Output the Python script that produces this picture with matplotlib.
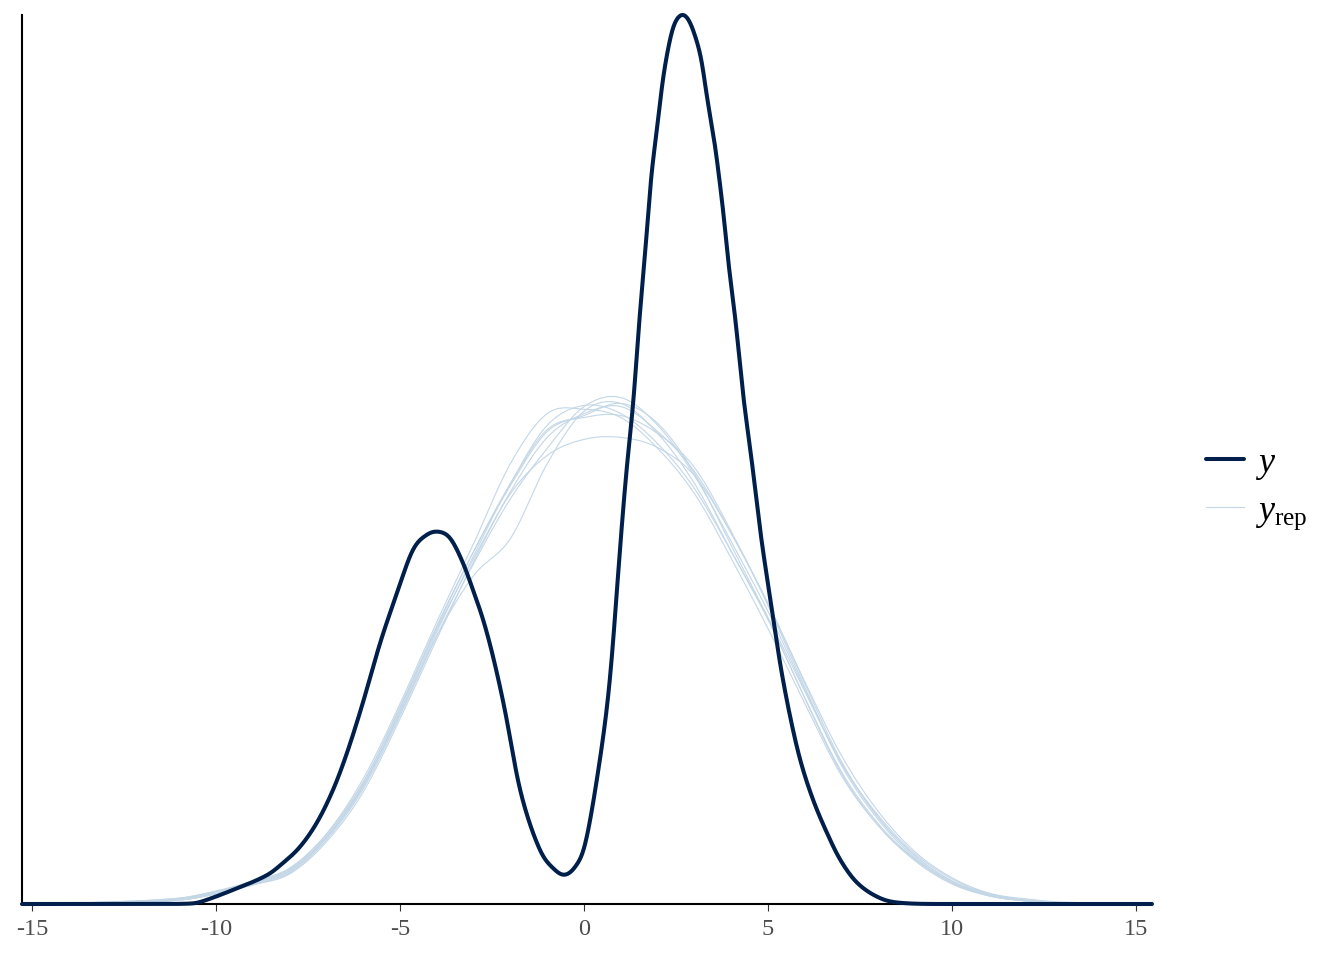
import numpy as np
import matplotlib
matplotlib.use("Agg")
import matplotlib.pyplot as plt
from matplotlib.lines import Line2D

plt.rcParams['mathtext.fontset'] = 'custom'
plt.rcParams['mathtext.rm'] = 'Liberation Serif'
plt.rcParams['mathtext.it'] = 'Liberation Serif:italic'
plt.rcParams['font.family'] = ['Liberation Serif', 'DejaVu Serif']

# ---- data: observed density (density x 1e3) ----
y_x = [-15.27, -11.79, -10.71, -10.43, -9.54, -8.61, -8.18, -7.72, -7.26, -6.82, -6.44,
       -6.01, -5.54, -5.08, -4.65, -4.27, -3.97, -3.64, -3.29, -3.02, -2.74, -2.47,
       -2.15, -1.74, -1.20, -0.79, -0.52, -0.24, 0.03, 0.43, 0.71, 0.98, 1.17, 1.36,
       1.47, 1.58, 1.71, 1.79, 1.88, 1.98, 2.07, 2.15, 2.28, 2.42, 2.61, 2.74, 2.88,
       3.07, 3.21, 3.34, 3.48, 3.61, 3.70, 3.83, 3.91, 4.05, 4.18, 4.32, 4.51, 4.78,
       5.05, 5.33, 5.60, 5.87, 6.22, 6.60, 6.96, 7.42, 8.04, 8.59, 9.95, 15.43]
y_dens = [0.0, 0.0, 0.1, 0.5, 3.6, 7.4, 10.5, 14.6, 20.8, 29.2, 38.7,
          51.5, 66.9, 79.7, 90.8, 94.6, 95.4, 93.8, 87.4, 80.5, 72.8, 63.3,
          49.7, 29.2, 13.8, 8.7, 7.4, 9.5, 15.1, 36.9, 57.9, 91.5, 113.1, 130.0,
          146.4, 158.2, 172.1, 183.8, 191.5, 197.7, 206.2, 212.1, 219.0, 224.9, 227.7, 227.7, 225.9,
          220.8, 215.6, 206.2, 199.2, 190.8, 183.8, 173.6, 164.4, 154.9, 143.8, 130.0, 117.2, 95.9,
          78.7, 61.3, 47.9, 36.9, 26.7, 18.2, 11.3, 5.4, 1.5, 0.3, 0.0, 0.0]

# ---- data: replicated densities (density x 1e3) ----
rep_x = [-15.27, -13, -11, -10, -9, -8, -7, -6, -5, -4, -3, -2, -1, 0, 1, 2, 3, 4, 5,
         6, 7, 8, 9, 10, 11, 12, 13, 15.43]
rep_1 = [0, 0.3, 1.3, 3.1, 5.6, 9.0, 17.9, 32.1, 51.3, 72.3, 92.3, 112.8, 125.6, 126.7, 124.6, 116.7, 105.1, 88.5, 70.5, 51.3, 32.8, 20.0, 11.3, 5.4, 2.1, 0.8, 0.3, 0]
rep_2 = [0, 0.3, 1.0, 2.6, 4.9, 7.9, 16.4, 29.5, 48.2, 68.7, 87.2, 103.8, 116.7, 127.4, 129.7, 122.6, 109.7, 92.8, 74.9, 54.9, 35.9, 22.1, 12.3, 5.9, 2.6, 1.0, 0.3, 0]
rep_3 = [0, 0.5, 1.5, 3.3, 5.9, 9.2, 17.9, 31.3, 50.3, 70.3, 88.5, 105.1, 114.9, 119.0, 119.5, 116.9, 109.7, 94.9, 76.9, 56.9, 37.9, 23.6, 13.3, 6.7, 2.8, 1.3, 0.5, 0]
rep_4 = [0, 0.3, 1.0, 2.6, 5.1, 8.2, 16.9, 30.3, 48.7, 68.7, 84.1, 93.6, 112.8, 126.2, 128.2, 120.5, 107.7, 90.3, 72.8, 52.8, 33.8, 20.5, 11.5, 5.4, 2.1, 0.8, 0.3, 0]
rep_5 = [0, 0.3, 1.3, 2.8, 5.4, 8.7, 17.4, 31.0, 50.5, 71.3, 90.3, 107.2, 121.0, 125.1, 128.2, 123.1, 110.3, 91.8, 73.1, 52.6, 33.3, 20.0, 11.0, 5.1, 2.1, 0.8, 0.3, 0]
rep_6 = [0, 0.5, 1.5, 3.3, 5.6, 8.5, 16.9, 30.0, 49.2, 69.7, 89.2, 107.7, 122.6, 127.7, 125.6, 117.9, 106.4, 90.3, 73.3, 54.4, 35.9, 22.6, 12.8, 6.4, 2.6, 1.0, 0.3, 0]
rep_7 = [0, 0.3, 1.0, 2.6, 4.9, 7.7, 15.9, 28.7, 47.4, 67.9, 87.7, 105.6, 119.5, 125.6, 127.4, 121.0, 110.8, 94.9, 76.9, 56.4, 36.4, 22.1, 12.3, 5.9, 2.3, 1.0, 0.3, 0]
rep_8 = [0, 0.3, 1.3, 3.1, 5.4, 8.5, 17.2, 30.5, 49.7, 70.8, 90.3, 107.7, 121.5, 124.6, 125.1, 120.5, 111.8, 95.4, 76.4, 55.4, 35.4, 21.5, 11.8, 5.6, 2.3, 0.8, 0.3, 0]
reps = [rep_1, rep_2, rep_3, rep_4, rep_5, rep_6, rep_7, rep_8]

xticks = [-15, -10, -5, 0, 5, 10, 15]
legend_labels = [r'$y$', r'$y_{\mathrm{rep}}$']

DARK = '#011f4b'
LIGHT = '#c4d7e7'


def smooth(xs, ys, n=2000, sigma=0.0):
    """Cubic Hermite curve through the read points (rendering only)."""
    xs = np.asarray(xs, float)
    ys = np.asarray(ys, float)
    m = np.zeros_like(ys)
    m[1:-1] = (ys[2:] - ys[:-2]) / (xs[2:] - xs[:-2])
    xx = np.linspace(xs[0], xs[-1], n)
    idx = np.clip(np.searchsorted(xs, xx) - 1, 0, len(xs) - 2)
    h = xs[idx + 1] - xs[idx]
    t = (xx - xs[idx]) / h
    h00 = 2 * t**3 - 3 * t**2 + 1
    h10 = t**3 - 2 * t**2 + t
    h01 = -2 * t**3 + 3 * t**2
    h11 = t**3 - t**2
    yy = h00 * ys[idx] + h10 * h * m[idx] + h01 * ys[idx + 1] + h11 * h * m[idx + 1]
    if sigma > 0:
        dx = xx[1] - xx[0]
        k = np.arange(-int(4 * sigma / dx), int(4 * sigma / dx) + 1) * dx
        w = np.exp(-0.5 * (k / sigma) ** 2)
        w /= w.sum()
        yy = np.convolve(np.pad(yy, len(k) // 2, mode='edge'), w, mode='valid')
    return xx, np.clip(yy, 0, None)


fig = plt.figure(figsize=(13.44, 9.6), dpi=100)
ax = fig.add_axes([22 / 1344, 56 / 960, 1130 / 1344, 889 / 960])

for r in reps:
    xx, yy = smooth(rep_x, np.array(r) / 1000.0)
    ax.plot(xx, yy, color=LIGHT, lw=0.8, zorder=3, clip_on=False)

xx, yy = smooth(y_x, np.array(y_dens) / 1000.0, n=4000, sigma=0.07)
ax.plot(xx, yy, color=DARK, lw=2.9, zorder=4, clip_on=False, solid_capstyle='round')

ax.set_xlim(-15.27, 15.43)
ax.set_ylim(0, yy.max())
ax.set_xticks(xticks)
ax.set_xticklabels([str(t) for t in xticks])
ax.set_yticks([])
for s in ['top', 'right']:
    ax.spines[s].set_visible(False)
for s in ['left', 'bottom']:
    ax.spines[s].set_linewidth(1.5)
    ax.spines[s].set_color('black')
    ax.spines[s].set_zorder(2)
ax.tick_params(axis='x', length=5, width=0.8, color='#333333', pad=6,
               labelsize=17.5, labelcolor='#4d4d4d')

handles = [Line2D([], [], color=DARK, lw=2.9, solid_capstyle='round'),
           Line2D([], [], color=LIGHT, lw=0.8)]
fig.legend(handles, legend_labels, loc='center left',
           bbox_to_anchor=(1177 / 1344, 1 - 489 / 960), frameon=False,
           fontsize=26, handlelength=1.05, handletextpad=0.3, labelspacing=0.35,
           borderpad=0.3)

fig.savefig('out.png', dpi=100, facecolor='white')
